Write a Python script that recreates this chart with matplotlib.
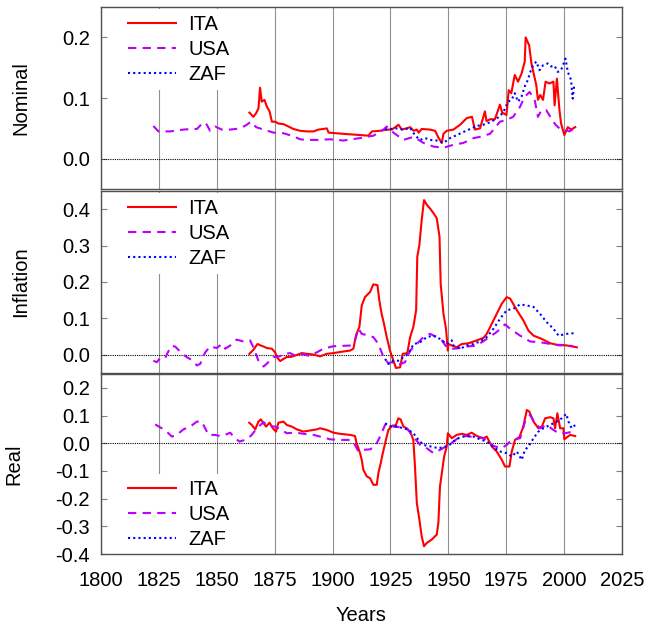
# Nominal, inflation and real rates for ITA / USA / ZAF, three stacked panels
import matplotlib
matplotlib.use('Agg')
import matplotlib.pyplot as plt

plt.rcParams['font.family'] = ['Liberation Sans', 'DejaVu Sans']
plt.rcParams['axes.unicode_minus'] = False

# ---- data ----
countries = ['ITA', 'USA', 'ZAF']

nominal_ita_years = [1864.1, 1865.8, 1867.0, 1868.0, 1868.7, 1869.4, 1870.6, 1871.6, 1872.8, 1873.8,
                     1875.2, 1876.6, 1878.8, 1881.0, 1883.1, 1886.0, 1888.9, 1891.8, 1893.9, 1896.0,
                     1897.5, 1898.3, 1904.7, 1911.9, 1915.5, 1917.0, 1920.5, 1923.4, 1925.6, 1928.5,
                     1929.9, 1932.0, 1933.5, 1935.0, 1936.4, 1937.2, 1938.5, 1942.1, 1944.3, 1945.7,
                     1947.2, 1947.9, 1949.3, 1952.2, 1955.1, 1958.0, 1960.2, 1961.5, 1963.7, 1965.8,
                     1966.5, 1968.0, 1970.1, 1972.3, 1973.3, 1975.1, 1976.1, 1977.2, 1978.7, 1980.1,
                     1981.6, 1983.0, 1983.4, 1984.9, 1985.9, 1987.0, 1988.0, 1988.7, 1989.7, 1990.9,
                     1992.0, 1993.7, 1995.4, 1995.9, 1996.9, 1998.0, 1998.7, 2000.1, 2001.6, 2003.0,
                     2004.8]
nominal_ita = [0.076, 0.069, 0.075, 0.083, 0.117, 0.094, 0.097, 0.086, 0.078, 0.061,
               0.061, 0.058, 0.057, 0.053, 0.049, 0.046, 0.045, 0.045, 0.048, 0.049,
               0.050, 0.043, 0.041, 0.039, 0.038, 0.045, 0.046, 0.048, 0.048, 0.056,
               0.048, 0.050, 0.052, 0.046, 0.048, 0.043, 0.049, 0.048, 0.046, 0.035,
               0.026, 0.041, 0.046, 0.048, 0.056, 0.067, 0.069, 0.048, 0.050, 0.078,
               0.062, 0.065, 0.065, 0.089, 0.076, 0.072, 0.113, 0.108, 0.138, 0.127,
               0.140, 0.160, 0.200, 0.187, 0.157, 0.138, 0.121, 0.097, 0.105, 0.097,
               0.127, 0.124, 0.127, 0.088, 0.132, 0.080, 0.058, 0.039, 0.052, 0.048,
               0.052]

nominal_usa_years = [1822.6, 1824.8, 1829.8, 1835.6, 1839.2, 1841.4, 1844.2, 1845.7, 1847.1, 1849.3,
                     1852.2, 1855.8, 1860.1, 1863.0, 1864.7, 1867.0, 1870.2, 1874.5, 1878.8, 1883.1,
                     1886.0, 1888.9, 1893.2, 1899.0, 1904.7, 1911.9, 1917.7, 1922.0, 1923.4, 1926.3,
                     1930.6, 1935.0, 1939.3, 1943.6, 1947.9, 1952.2, 1956.5, 1960.9, 1963.7, 1968.0,
                     1972.3, 1975.1, 1978.0, 1980.9, 1983.0, 1985.1, 1987.3, 1988.7, 1990.2, 1992.3,
                     1994.4, 1996.3, 1998.0, 2000.1, 2002.3, 2004.5]
nominal_usa = [0.054, 0.045, 0.045, 0.048, 0.049, 0.049, 0.060, 0.056, 0.046, 0.053,
               0.048, 0.048, 0.050, 0.056, 0.061, 0.052, 0.048, 0.043, 0.042, 0.037,
               0.032, 0.031, 0.031, 0.032, 0.030, 0.034, 0.038, 0.048, 0.053, 0.043,
               0.031, 0.036, 0.026, 0.020, 0.018, 0.023, 0.026, 0.034, 0.036, 0.041,
               0.061, 0.064, 0.069, 0.085, 0.102, 0.110, 0.097, 0.069, 0.080, 0.080,
               0.067, 0.056, 0.050, 0.048, 0.045, 0.050]

nominal_zaf_years = [1922.7, 1924.9, 1927.7, 1930.6, 1933.5, 1935.7, 1937.8, 1940.0, 1942.1, 1945.0,
                     1947.9, 1950.8, 1953.7, 1956.5, 1959.4, 1962.3, 1965.1, 1968.0, 1970.9, 1973.7,
                     1975.8, 1977.3, 1978.7, 1980.1, 1981.6, 1983.0, 1984.4, 1985.2, 1986.6, 1988.0,
                     1989.4, 1990.9, 1993.0, 1994.4, 1995.9, 1997.3, 1998.7, 2000.6, 2001.6, 2003.0,
                     2003.7, 2004.4]
nominal_zaf = [0.048, 0.049, 0.050, 0.048, 0.051, 0.038, 0.031, 0.034, 0.031, 0.030,
               0.026, 0.034, 0.039, 0.044, 0.049, 0.054, 0.056, 0.060, 0.066, 0.076,
               0.094, 0.097, 0.108, 0.094, 0.102, 0.119, 0.130, 0.141, 0.154, 0.160,
               0.146, 0.154, 0.157, 0.152, 0.153, 0.143, 0.146, 0.165, 0.143, 0.130,
               0.099, 0.121]

inflation_ita_years = [1864.1, 1865.8, 1867.6, 1869.0, 1870.2, 1871.6, 1873.8, 1875.2, 1875.9, 1877.4,
                       1878.8, 1880.2, 1882.4, 1884.6, 1886.7, 1888.9, 1891.8, 1894.6, 1897.5, 1900.4,
                       1903.2, 1907.6, 1909.0, 1910.2, 1911.6, 1912.6, 1914.0, 1916.2, 1917.6, 1919.4,
                       1920.2, 1921.2, 1922.2, 1923.4, 1924.8, 1926.3, 1927.4, 1929.2, 1930.3, 1932.3,
                       1933.5, 1934.9, 1936.1, 1936.6, 1937.5, 1938.5, 1939.5, 1940.7, 1942.1, 1943.6,
                       1945.0, 1946.2, 1946.7, 1947.9, 1949.0, 1949.8, 1950.0, 1951.5, 1953.6, 1955.8,
                       1958.7, 1962.3, 1965.2, 1966.6, 1968.8, 1970.9, 1973.1, 1975.2, 1976.7, 1979.6,
                       1982.4, 1984.6, 1986.8, 1990.4, 1994.0, 1996.8, 2001.2, 2005.5]
inflation_ita = [0.002, 0.013, 0.029, 0.025, 0.022, 0.018, 0.016, 0.006, -0.007, -0.018,
                 -0.012, -0.007, -0.006, -0.001, 0.004, 0.002, 0.000, -0.005, 0.002, 0.004,
                 0.007, 0.011, 0.016, 0.055, 0.076, 0.135, 0.158, 0.172, 0.193, 0.191,
                 0.149, 0.112, 0.085, 0.048, 0.011, -0.017, -0.037, -0.035, 0.002, 0.004,
                 0.048, 0.076, 0.122, 0.269, 0.301, 0.370, 0.425, 0.412, 0.402, 0.389,
                 0.375, 0.324, 0.195, 0.112, 0.071, 0.011, 0.029, 0.025, 0.020, 0.029,
                 0.031, 0.039, 0.046, 0.057, 0.085, 0.112, 0.140, 0.158, 0.154, 0.122,
                 0.094, 0.066, 0.052, 0.043, 0.031, 0.027, 0.025, 0.020]

inflation_usa_years = [1822.6, 1824.1, 1825.5, 1827.7, 1829.1, 1830.6, 1832.0, 1833.4, 1835.6, 1837.0,
                       1839.2, 1841.4, 1842.8, 1845.0, 1847.1, 1850.0, 1852.2, 1853.6, 1855.8, 1858.6,
                       1861.5, 1864.4, 1865.8, 1868.0, 1870.2, 1872.3, 1874.5, 1876.6, 1879.5, 1881.7,
                       1883.8, 1886.7, 1889.6, 1893.2, 1896.0, 1900.4, 1904.7, 1908.3, 1909.7, 1911.2,
                       1912.6, 1915.5, 1917.6, 1919.8, 1922.0, 1924.1, 1925.6, 1928.4, 1931.3, 1933.5,
                       1936.4, 1939.2, 1942.1, 1945.0, 1947.2, 1949.3, 1952.2, 1955.1, 1958.0, 1962.3,
                       1966.6, 1970.9, 1974.5, 1976.7, 1981.0, 1985.3, 1989.6, 1994.0, 1998.3, 2001.2,
                       2004.0]
inflation_usa = [-0.017, -0.021, -0.010, -0.010, 0.009, 0.024, 0.022, 0.013, 0.000, -0.007,
                 -0.015, -0.030, -0.026, 0.006, 0.022, 0.018, 0.029, 0.016, 0.025, 0.041,
                 0.036, 0.039, 0.020, -0.017, -0.033, -0.021, -0.007, -0.006, 0.002, 0.004,
                 -0.003, 0.002, -0.003, 0.006, 0.016, 0.023, 0.024, 0.025, 0.039, 0.071,
                 0.057, 0.052, 0.048, 0.029, -0.007, -0.024, -0.021, -0.028, -0.021, 0.011,
                 0.029, 0.048, 0.057, 0.048, 0.039, 0.020, 0.016, 0.018, 0.022, 0.025,
                 0.043, 0.062, 0.083, 0.071, 0.052, 0.036, 0.034, 0.029, 0.025, 0.028,
                 0.022]

inflation_zaf_years = [1922.7, 1924.1, 1926.3, 1928.4, 1930.6, 1932.8, 1934.9, 1937.8, 1940.7, 1943.6,
                       1946.4, 1949.3, 1951.5, 1952.2, 1955.1, 1958.0, 1960.8, 1963.7, 1966.6, 1969.5,
                       1972.4, 1975.2, 1978.1, 1981.0, 1983.9, 1986.8, 1989.6, 1992.5, 1995.4, 1997.6,
                       1999.7, 2001.2, 2004.8]
inflation_zaf = [-0.012, -0.026, -0.017, -0.017, -0.007, 0.002, 0.028, 0.034, 0.048, 0.052,
                 0.043, 0.029, 0.039, 0.025, 0.016, 0.025, 0.029, 0.036, 0.048, 0.071,
                 0.099, 0.122, 0.126, 0.138, 0.135, 0.131, 0.112, 0.089, 0.071, 0.052,
                 0.055, 0.057, 0.059]

real_ita_years = [1864.0, 1865.1, 1866.6, 1868.0, 1869.0, 1870.2, 1871.3, 1872.8, 1874.2, 1875.6,
                  1876.6, 1878.8, 1880.2, 1882.4, 1884.6, 1887.4, 1890.3, 1893.2, 1894.6, 1897.5,
                  1900.4, 1903.2, 1907.6, 1909.7, 1910.4, 1911.9, 1912.6, 1913.3, 1914.8, 1916.2,
                  1917.6, 1919.1, 1919.8, 1920.8, 1921.7, 1922.7, 1924.1, 1925.6, 1927.4, 1928.4,
                  1929.4, 1930.6, 1932.0, 1933.5, 1934.9, 1935.6, 1936.4, 1937.5, 1938.5, 1939.5,
                  1940.7, 1942.8, 1945.0, 1945.7, 1946.4, 1947.2, 1948.2, 1949.3, 1949.8, 1951.5,
                  1953.6, 1955.8, 1958.0, 1960.1, 1962.3, 1965.2, 1966.6, 1968.8, 1970.9, 1973.1,
                  1974.5, 1976.4, 1977.4, 1978.8, 1980.7, 1982.4, 1983.9, 1985.0, 1986.8, 1988.9,
                  1990.4, 1991.8, 1994.0, 1995.4, 1996.1, 1997.1, 1998.3, 1999.7, 2000.1, 2002.6,
                  2004.8]
real_ita = [0.074, 0.066, 0.050, 0.078, 0.086, 0.072, 0.060, 0.074, 0.054, 0.042,
            0.074, 0.078, 0.066, 0.060, 0.050, 0.042, 0.046, 0.050, 0.054, 0.048,
            0.038, 0.034, 0.030, 0.026, 0.000, -0.036, -0.060, -0.096, -0.120, -0.126,
            -0.150, -0.150, -0.108, -0.072, -0.036, 0.000, 0.048, 0.062, 0.066, 0.090,
            0.086, 0.060, 0.054, 0.042, 0.012, -0.084, -0.216, -0.276, -0.336, -0.372,
            -0.360, -0.348, -0.330, -0.288, -0.156, -0.108, -0.048, -0.012, 0.036, 0.018,
            0.030, 0.034, 0.030, 0.038, 0.026, 0.018, 0.024, -0.012, -0.030, -0.060,
            -0.084, -0.084, -0.030, 0.012, 0.022, 0.060, 0.120, 0.114, 0.078, 0.054,
            0.060, 0.090, 0.094, 0.090, 0.054, 0.108, 0.054, 0.054, 0.014, 0.030,
            0.026]

real_usa_years = [1823.4, 1826.2, 1828.4, 1830.6, 1832.7, 1835.6, 1838.5, 1841.4, 1843.5, 1845.0,
                  1846.4, 1849.3, 1851.4, 1853.6, 1855.8, 1857.9, 1859.8, 1863.0, 1865.1, 1867.3,
                  1870.2, 1872.3, 1875.2, 1878.1, 1880.2, 1883.1, 1886.0, 1888.9, 1891.8, 1894.6,
                  1898.9, 1903.2, 1907.6, 1909.7, 1911.2, 1913.3, 1916.2, 1918.4, 1920.5, 1922.7,
                  1924.1, 1926.3, 1929.2, 1932.0, 1934.9, 1937.8, 1940.7, 1943.6, 1946.4, 1949.3,
                  1952.2, 1955.1, 1958.0, 1960.9, 1965.2, 1969.5, 1973.1, 1975.2, 1977.4, 1981.0,
                  1983.1, 1985.3, 1987.5, 1989.6, 1992.5, 1995.4, 1997.6, 2000.4, 2004.0]
real_usa = [0.068, 0.054, 0.042, 0.024, 0.030, 0.050, 0.060, 0.078, 0.078, 0.054,
            0.030, 0.030, 0.026, 0.030, 0.038, 0.018, 0.006, 0.014, 0.030, 0.054,
            0.076, 0.062, 0.060, 0.048, 0.036, 0.038, 0.036, 0.032, 0.030, 0.024,
            0.014, 0.012, 0.012, -0.006, -0.030, -0.024, -0.022, -0.012, 0.024, 0.066,
            0.074, 0.060, 0.058, 0.054, 0.024, -0.006, -0.018, -0.036, -0.024, -0.010,
            0.006, 0.024, 0.026, 0.022, 0.018, -0.010, -0.018, -0.006, 0.012, 0.018,
            0.078, 0.102, 0.072, 0.054, 0.066, 0.048, 0.036, 0.036, 0.042]

real_zaf_years = [1922.7, 1924.8, 1927.7, 1930.6, 1932.8, 1934.9, 1937.1, 1939.2, 1941.4, 1943.6,
                  1945.7, 1947.9, 1950.0, 1952.2, 1955.1, 1958.0, 1960.9, 1963.7, 1966.6, 1969.5,
                  1972.4, 1975.2, 1977.4, 1979.6, 1981.7, 1983.1, 1984.6, 1986.8, 1988.9, 1991.0,
                  1994.0, 1996.8, 1999.0, 2000.9, 2001.9, 2003.3, 2004.8]
real_zaf = [0.072, 0.062, 0.060, 0.054, 0.048, 0.036, 0.012, -0.006, -0.010, -0.014,
            -0.018, -0.014, -0.010, 0.006, 0.022, 0.026, 0.024, 0.014, 0.006, -0.014,
            -0.030, -0.036, -0.048, -0.030, -0.060, -0.024, -0.012, 0.018, 0.042, 0.054,
            0.066, 0.078, 0.090, 0.106, 0.078, 0.054, 0.066]

panel_names = ['Nominal', 'Inflation', 'Real']
panel_ylims = [(-0.05, 0.25), (-0.05, 0.45), (-0.4, 0.25)]
panel_yticks = [[0.0, 0.1, 0.2],
                [0.0, 0.1, 0.2, 0.3, 0.4],
                [-0.4, -0.3, -0.2, -0.1, 0.0, 0.1, 0.2]]
year_ticks = [1800, 1825, 1850, 1875, 1900, 1925, 1950, 1975, 2000, 2025]

panel_data = [
    [(nominal_ita_years, nominal_ita), (nominal_usa_years, nominal_usa), (nominal_zaf_years, nominal_zaf)],
    [(inflation_ita_years, inflation_ita), (inflation_usa_years, inflation_usa), (inflation_zaf_years, inflation_zaf)],
    [(real_ita_years, real_ita), (real_usa_years, real_usa), (real_zaf_years, real_zaf)],
]

# styles per country
colors = ['#ff0000', '#bb00ff', '#0000ff']
styles = ['-', (0, (4, 3)), (0, (1, 1.5))]

fig = plt.figure(figsize=(6.45, 6.26), dpi=100)
# axes rectangles in figure fractions (left, bottom, width, height)
rects = [(0.1566, 0.698, 0.8077, 0.2908),
         (0.1566, 0.4046, 0.8077, 0.2903),
         (0.1566, 0.115, 0.8077, 0.2876)]

fs = 14.5
legends = []
for i, rect in enumerate(rects):
    ax = fig.add_axes(rect)
    for (yrs, vals), c, ls, name in zip(panel_data[i], colors, styles, countries):
        ax.plot(yrs, vals, color=c, linestyle=ls, linewidth=1.5, label=name)
    ax.axhline(0, color='black', linestyle=(0, (1, 1)), linewidth=0.8, zorder=1)

    ax.set_xlim(1800, 2025)
    ax.set_ylim(*panel_ylims[i])
    ax.set_xticks(year_ticks)
    ax.set_yticks(panel_yticks[i])
    ax.set_yticklabels(['%.1f' % t for t in panel_yticks[i]], fontsize=fs)
    ax.grid(axis='x', color='#909090', linewidth=0.8)
    ax.set_axisbelow(True)
    ax.tick_params(axis='y', direction='in', right=True, length=4, pad=8, color='#808080')
    ax.tick_params(axis='x', direction='in', top=True, length=0, pad=12)
    ax.set_ylabel(panel_names[i], fontsize=fs, labelpad=23)
    for sp in ax.spines.values():
        sp.set_color('#505050')
        sp.set_linewidth(1.0)

    if i < 2:
        ax.tick_params(axis='x', labelbottom=False)
        loc, anchor = 'upper left', (0.04, 0.99)
    else:
        ax.set_xticklabels([str(y) for y in year_ticks], fontsize=fs)
        ax.set_xlabel('Years', fontsize=fs, labelpad=12)
        loc, anchor = 'lower left', (0.04, -0.005)

    leg = ax.legend(loc=loc, bbox_to_anchor=anchor, fontsize=fs, frameon=True,
                    facecolor='white', edgecolor='none', framealpha=1.0,
                    handlelength=2.4, labelspacing=0.3, borderaxespad=0.0,
                    borderpad=0.3, handletextpad=0.6)
    leg.get_frame().set_boxstyle('square', pad=0)
    # keep the frame (spines) drawn above the opaque legend box
    leg.set_zorder(2.4)
    legends.append(leg)

# right-justify the legend labels, gnuplot style
for leg in legends:
    for t in leg.get_texts():
        t.set_ha('right')

fig.savefig('out.png', dpi=100)
